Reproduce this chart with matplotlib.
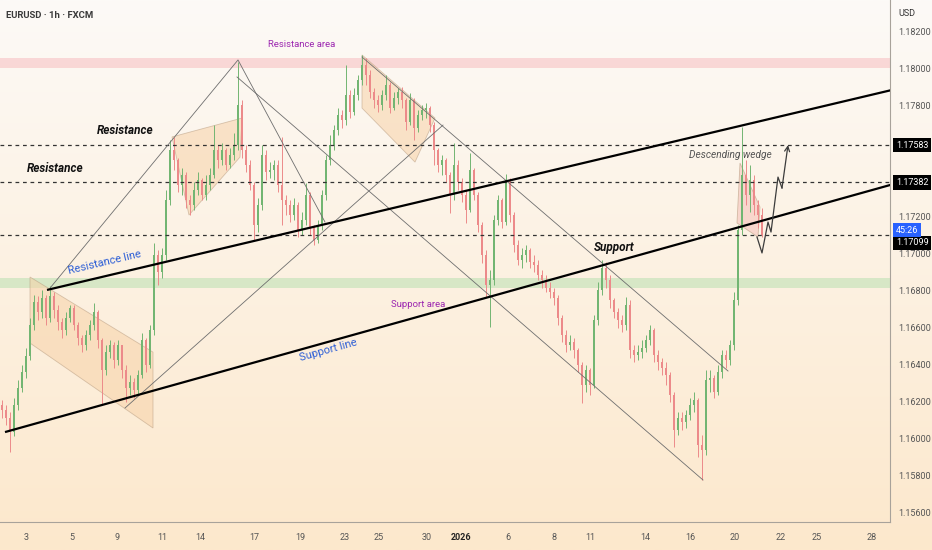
import numpy as np
import matplotlib
matplotlib.use("Agg")
import matplotlib.pyplot as plt
from matplotlib.patches import Polygon
from matplotlib.transforms import blended_transform_factory

# EURUSD 1h, shown as one candle per 4 hours (bar index)
first_open = 1.16179
closes = [
    1.16152, 1.16109, 1.16033, 1.16179, 1.16271, 1.16357, 1.16444, 1.16611, 1.16736, 1.16682, 1.16757, 1.16649, 1.16768,
    1.16692, 1.16627, 1.16584, 1.16649, 1.16703, 1.16611, 1.16541, 1.16503, 1.16557, 1.16611, 1.16682, 1.16530, 1.16368,
    1.16465, 1.16503, 1.16422, 1.16503, 1.16368, 1.16271, 1.16303, 1.16260, 1.16341, 1.16530, 1.16395, 1.16584,
    1.16990, 1.16898, 1.16990, 1.17287, 1.17557, 1.17503, 1.17368, 1.17422, 1.17287, 1.17260, 1.17341, 1.17395, 1.17314,
    1.17368, 1.17422, 1.17557, 1.17503, 1.17557, 1.17476, 1.17530, 1.17584,
    1.17801, 1.17557, 1.17476, 1.17368, 1.17152, 1.17260, 1.17530, 1.17438, 1.17449, 1.17476, 1.17368, 1.17287, 1.17260,
    1.17206, 1.17260, 1.17125, 1.17179, 1.17314, 1.17136, 1.17071, 1.17152, 1.17314, 1.17503, 1.17584, 1.17665, 1.17746,
    1.17719, 1.17855, 1.17763, 1.17855, 1.17936, 1.18017,
    1.17963, 1.17871, 1.17828, 1.17801, 1.17855, 1.17909, 1.17784, 1.17838, 1.17871, 1.17828, 1.17709, 1.17828, 1.17676,
    1.17746, 1.17773, 1.17784, 1.17692, 1.17557, 1.17476, 1.17503, 1.17422, 1.17314, 1.17476, 1.17384, 1.17314, 1.17233,
    1.17449, 1.17314, 1.17152, 1.16990, 1.16828, 1.16855,
    1.17179, 1.17287, 1.17168, 1.17395, 1.17206, 1.17044, 1.16963, 1.16990, 1.17017, 1.16952, 1.16936, 1.16882, 1.16855,
    1.16811, 1.16790, 1.16757, 1.16649, 1.16557, 1.16503, 1.16519, 1.16476, 1.16395, 1.16287, 1.16368, 1.16287, 1.16638,
    1.16801, 1.16920, 1.16855, 1.16747, 1.16682, 1.16638, 1.16611, 1.16720,
    1.16476, 1.16449, 1.16465, 1.16487, 1.16530, 1.16584, 1.16449, 1.16411, 1.16378, 1.16341, 1.16233, 1.16044, 1.16109,
    1.16087, 1.16125, 1.16179, 1.16206, 1.15963, 1.15936, 1.16314, 1.16325, 1.16249, 1.16357, 1.16449, 1.16422, 1.16503,
    1.16747, 1.17125, 1.17422, 1.17314, 1.17395, 1.17260, 1.17206, 1.17099,
]
highs = [
    1.16206, 1.16179, 1.16141, 1.16217, 1.16314, 1.16395, 1.16487, 1.16649, 1.16774, 1.16768, 1.16801, 1.16774, 1.16822,
    1.16790, 1.16720, 1.16649, 1.16682, 1.16720, 1.16720, 1.16627, 1.16557, 1.16584, 1.16638, 1.16730, 1.16692, 1.16541,
    1.16503, 1.16530, 1.16519, 1.16530, 1.16503, 1.16395, 1.16341, 1.16325, 1.16368, 1.16568, 1.16541, 1.16611,
    1.17055, 1.17017, 1.17028, 1.17341, 1.17611, 1.17628, 1.17514, 1.17460, 1.17438, 1.17314, 1.17384, 1.17438, 1.17406,
    1.17422, 1.17460, 1.17692, 1.17584, 1.17595, 1.17568, 1.17568, 1.17649,
    1.18033, 1.17828, 1.17584, 1.17503, 1.17384, 1.17298, 1.17584, 1.17557, 1.17492, 1.17503, 1.17503, 1.17628, 1.17314,
    1.17287, 1.17298, 1.17276, 1.17222, 1.17379, 1.17330, 1.17152, 1.17179, 1.17341, 1.17530, 1.17638, 1.17692, 1.17784,
    1.17773, 1.18017, 1.17882, 1.17892, 1.17963, 1.18071,
    1.18055, 1.17990, 1.17892, 1.17855, 1.17882, 1.17963, 1.17925, 1.17871, 1.17892, 1.17898, 1.17838, 1.17865, 1.17838,
    1.17773, 1.17801, 1.17811, 1.17795, 1.17709, 1.17568, 1.17530, 1.17514, 1.17438, 1.17595, 1.17503, 1.17406, 1.17341,
    1.17541, 1.17460, 1.17330, 1.17168, 1.17017, 1.16909,
    1.17206, 1.17314, 1.17298, 1.17428, 1.17406, 1.17222, 1.17071, 1.17028, 1.17044, 1.17028, 1.16990, 1.16963, 1.16909,
    1.16882, 1.16844, 1.16811, 1.16774, 1.16665, 1.16584, 1.16557, 1.16541, 1.16487, 1.16411, 1.16395, 1.16378, 1.16665,
    1.16844, 1.16963, 1.16952, 1.16882, 1.16757, 1.16703, 1.16665, 1.16763,
    1.16747, 1.16503, 1.16503, 1.16530, 1.16557, 1.16611, 1.16595, 1.16476, 1.16433, 1.16411, 1.16357, 1.16249, 1.16141,
    1.16141, 1.16152, 1.16217, 1.16249, 1.16217, 1.16017, 1.16368, 1.16368, 1.16341, 1.16395, 1.16476, 1.16476, 1.16530,
    1.16790, 1.17152, 1.17682, 1.17503, 1.17476, 1.17422, 1.17287, 1.17244,
]
lows = [
    1.16109, 1.16071, 1.15925, 1.16011, 1.16152, 1.16249, 1.16325, 1.16422, 1.16584, 1.16638, 1.16649, 1.16611, 1.16627,
    1.16649, 1.16584, 1.16541, 1.16557, 1.16627, 1.16584, 1.16503, 1.16465, 1.16476, 1.16530, 1.16584, 1.16487, 1.16179,
    1.16341, 1.16433, 1.16378, 1.16395, 1.16325, 1.16195, 1.16233, 1.16217, 1.16233, 1.16325, 1.16357, 1.16378,
    1.16557, 1.16828, 1.16865, 1.16963, 1.17260, 1.17449, 1.17330, 1.17314, 1.17244, 1.17206, 1.17233, 1.17314, 1.17287,
    1.17287, 1.17341, 1.17406, 1.17460, 1.17476, 1.17449, 1.17460, 1.17503,
    1.17557, 1.17514, 1.17438, 1.17341, 1.17071, 1.17114, 1.17233, 1.17395, 1.17406, 1.17395, 1.17330, 1.17152, 1.17206,
    1.17168, 1.17179, 1.17087, 1.17098, 1.17152, 1.17098, 1.17044, 1.17055, 1.17125, 1.17287, 1.17476, 1.17557, 1.17638,
    1.17676, 1.17692, 1.17730, 1.17746, 1.17828, 1.17909,
    1.17909, 1.17838, 1.17784, 1.17763, 1.17773, 1.17828, 1.17757, 1.17773, 1.17806, 1.17784, 1.17665, 1.17692, 1.17611,
    1.17655, 1.17719, 1.17730, 1.17655, 1.17476, 1.17438, 1.17422, 1.17384, 1.17217, 1.17287, 1.17341, 1.17276, 1.17163,
    1.17222, 1.17287, 1.17114, 1.16946, 1.16763, 1.16600,
    1.16828, 1.17152, 1.17136, 1.17152, 1.17168, 1.17006, 1.16936, 1.16920, 1.16952, 1.16920, 1.16898, 1.16855, 1.16811,
    1.16790, 1.16757, 1.16720, 1.16611, 1.16519, 1.16465, 1.16476, 1.16433, 1.16357, 1.16190, 1.16249, 1.16233, 1.16271,
    1.16611, 1.16774, 1.16811, 1.16703, 1.16649, 1.16595, 1.16573, 1.16584,
    1.16433, 1.16411, 1.16422, 1.16433, 1.16465, 1.16503, 1.16411, 1.16368, 1.16341, 1.16287, 1.16195, 1.15952, 1.16017,
    1.16044, 1.16055, 1.16098, 1.16141, 1.15898, 1.15774, 1.15909, 1.16249, 1.16217, 1.16233, 1.16325, 1.16378, 1.16395,
    1.16476, 1.16720, 1.17098, 1.17260, 1.17222, 1.17206, 1.17136, 1.17087,
]

date_labels = ["3", "5", "9", "11", "14", "17", "19", "23", "25", "30", "2026",
               "6", "8", "11", "14", "16", "20", "22", "25", "28"]
date_bars = [6, 17.5, 28.75, 40, 49.5, 63, 74.5, 85.75, 94.25, 106.25, 114.75,
             126.5, 138, 147, 160.75, 172, 183.25, 194.75, 203.75, 217.5]

price_ticks = np.arange(1.156, 1.1821, 0.002)
hidden_ticks = [1.174, 1.176]  # covered by the level labels
level_prices = [1.17583, 1.17382, 1.17099]
resistance_area = (1.18000, 1.18054)
support_area = (1.16811, 1.16865)

# drawn objects: (bar, price) anchors
resistance_line = [(11.25, 1.16801), (185.0, 1.17690)]
support_line = [(0.75, 1.16033), (222.0, 1.17368)]
thin_lines = [
    [(12.0, 1.16811), (59.0, 1.18044), (80.75, 1.17168)],
    [(58.75, 1.17952), (175.25, 1.15774)],
    [(30.75, 1.16163), (110.25, 1.17692)],
    [(90.0, 1.18060), (181.5, 1.16363)],
]
patterns = [
    [(7.0, 1.16871), (37.75, 1.16465), (37.75, 1.16055), (7.0, 1.16514)],
    [(42.5, 1.17628), (60.0, 1.17730), (59.5, 1.17519), (46.75, 1.17206)],
    [(90.0, 1.18071), (108.25, 1.17730), (103.25, 1.17492), (90.0, 1.17784)],
]
wedge = [(184.5, 1.17487), (189.5, 1.17249), (189.0, 1.17087), (183.75, 1.17163)]
projection = [(188.75, 1.17087), (190.0, 1.17001), (191.5, 1.17168), (192.25, 1.17114),
              (194.0, 1.17411), (195.0, 1.17352), (196.5, 1.17584)]

W, H = 932, 550
fig = plt.figure(figsize=(W / 100, H / 100), dpi=100)

# warm vertical gradient background
bg = fig.add_axes([0, 0, 1, 1], zorder=-10)
top = np.array([252, 250, 247]) / 255
bot = np.array([253, 232, 204]) / 255
t = np.linspace(0, 1, 256)[:, None]
grad = (top * (1 - t) + bot * t)[:, None, :]
bg.imshow(grad, aspect="auto", extent=[0, 1, 0, 1])
bg.axis("off")

ax = fig.add_axes([0, 28 / H, 890 / W, 522 / H])
ax.patch.set_alpha(0)
ax.set_xlim(-0.5, 222)
ax.set_ylim(1.15547, 1.18368)

font = ["Roboto", "DejaVu Sans"]

# zones
ax.axhspan(*resistance_area, color="#f9cfcf", alpha=0.8, lw=0, zorder=0)
ax.axhspan(*support_area, color="#d3e6c4", alpha=0.9, lw=0, zorder=0)

# patterns
for pts in patterns:
    ax.add_patch(Polygon(pts, closed=True, fc="#f7d2a8", ec="#b89c80", lw=0.6, alpha=0.55, zorder=1))
ax.add_patch(Polygon(wedge, closed=True, fc="#f6c4bc", ec="#b89c80", lw=0.6, alpha=0.6, zorder=1))

# candles
o = np.array([first_open] + closes[:-1])
c = np.array(closes)
h = np.maximum(np.array(highs), np.maximum(o, c))
l = np.minimum(np.array(lows), np.minimum(o, c))
x = np.arange(len(c))
up = c >= o
col = np.where(up, "#72b572", "#ec8a8a")
ax.vlines(x, l, h, colors=col, lw=0.7, zorder=2)
ax.bar(x, np.maximum(np.abs(c - o), 0.00003), bottom=np.minimum(o, c), width=0.62,
       color=col, lw=0, zorder=2)

# horizontal levels
for p in level_prices:
    ax.axhline(p, color="#333333", lw=0.9, ls=(0, (3, 3)), zorder=3)

# thin construction lines
for pts in thin_lines:
    xs, ys = zip(*pts)
    ax.plot(xs, ys, color="#6e6e6e", lw=0.6, zorder=3)


def extend(pts, x_end):
    (x0, y0), (x1, y1) = pts
    k = (y1 - y0) / (x1 - x0)
    return [x0, x_end], [y0, y0 + k * (x_end - x0)]


for pts in (resistance_line, support_line):
    xs, ys = extend(pts, 240)
    ax.plot(xs, ys, color="black", lw=1.6, zorder=4, solid_capstyle="butt")

# projection path with arrowhead
px, py = zip(*projection)
ax.plot(px[:-1], py[:-1], color="#3c3c3c", lw=0.9, zorder=4)
ax.annotate("", xy=projection[-1], xytext=projection[-2],
            arrowprops=dict(arrowstyle="->", color="#3c3c3c", lw=0.9,
                            shrinkA=0, shrinkB=0, mutation_scale=9), zorder=4)


def angle_of(pts):
    a = ax.transData.transform(pts[0])
    b = ax.transData.transform(pts[1])
    return np.degrees(np.arctan2(b[1] - a[1], b[0] - a[0]))


# annotations
lab = dict(fontsize=8.5, fontweight="bold", fontstyle="italic", color="#111111", family=font, zorder=5)
ax.text(30.75, 1.17665, "Resistance", ha="center", va="center", **lab)
ax.text(13.25, 1.17460, "Resistance", ha="center", va="center", **lab)
ax.text(153, 1.17033, "Support", ha="center", va="center", **lab)
ax.text(25.75, 1.16952, "Resistance line", ha="center", va="center", color="#2e5fd6",
        fontsize=8, family=font, rotation=angle_of(resistance_line), rotation_mode="anchor", zorder=5)
ax.text(81.5, 1.16476, "Support line", ha="center", va="center", color="#2e5fd6",
        fontsize=8, family=font, rotation=angle_of(support_line), rotation_mode="anchor", zorder=5)
ax.text(75, 1.18125, "Resistance area", ha="center", va="center", color="#9c27b0",
        fontsize=6.8, family=font, zorder=5)
ax.text(104, 1.16725, "Support area", ha="center", va="center", color="#9c27b0",
        fontsize=6.8, family=font, zorder=5)
ax.text(182, 1.17530, "Descending wedge", ha="center", va="center", color="#555555",
        fontsize=7.3, fontstyle="italic", family=font, zorder=5)

# axes styling
for s in ("top", "left"):
    ax.spines[s].set_visible(False)
ax.spines["right"].set_color("#a8a29a")
ax.spines["bottom"].set_color("#a8a29a")
ax.spines["right"].set_linewidth(0.8)
ax.spines["bottom"].set_linewidth(0.8)
ax.yaxis.tick_right()
ax.set_yticks(price_ticks)
ytl = ["" if any(abs(v - hv) < 1e-6 for hv in hidden_ticks) else f"{v:.5f}" for v in price_ticks]
ax.set_yticklabels(ytl, family=font)
ax.tick_params(axis="y", length=0, pad=6, labelsize=6.5, colors="#555555")
ax.set_xticks(date_bars)
ax.set_xticklabels(date_labels, family=font)
ax.tick_params(axis="x", length=0, pad=8, labelsize=6.5, colors="#555555")
for tl in ax.get_xticklabels():
    if tl.get_text() == "2026":
        tl.set_fontweight("bold")
        tl.set_color("#222222")

tr = blended_transform_factory(ax.transAxes, ax.transData)
box_x = 1.0065
for p, yv in zip(level_prices, [1.17583, 1.17382, 1.17055]):
    ax.text(box_x, yv, f"{p:.5f}", transform=tr, ha="left", va="center", color="white",
            fontsize=6.5, family=font, clip_on=False, zorder=6,
            bbox=dict(boxstyle="square,pad=0.3", fc="black", ec="none"))
ax.text(box_x, 1.17125, "45:26", transform=tr, ha="left", va="center", color="white",
        fontsize=6.5, family=font, clip_on=False, zorder=6,
        bbox=dict(boxstyle="square,pad=0.3", fc="#2962ff", ec="none"))

fig.text(6 / W, 1 - 15 / H, "EURUSD · 1h · FXCM", ha="left", va="center", fontsize=6.8,
         fontweight="bold", color="#3a3a3a", family=font)
fig.text(907 / W, 1 - 14 / H, "USD", ha="center", va="center", fontsize=6.5, color="#333333", family=font)

fig.savefig("out.png", dpi=100)
